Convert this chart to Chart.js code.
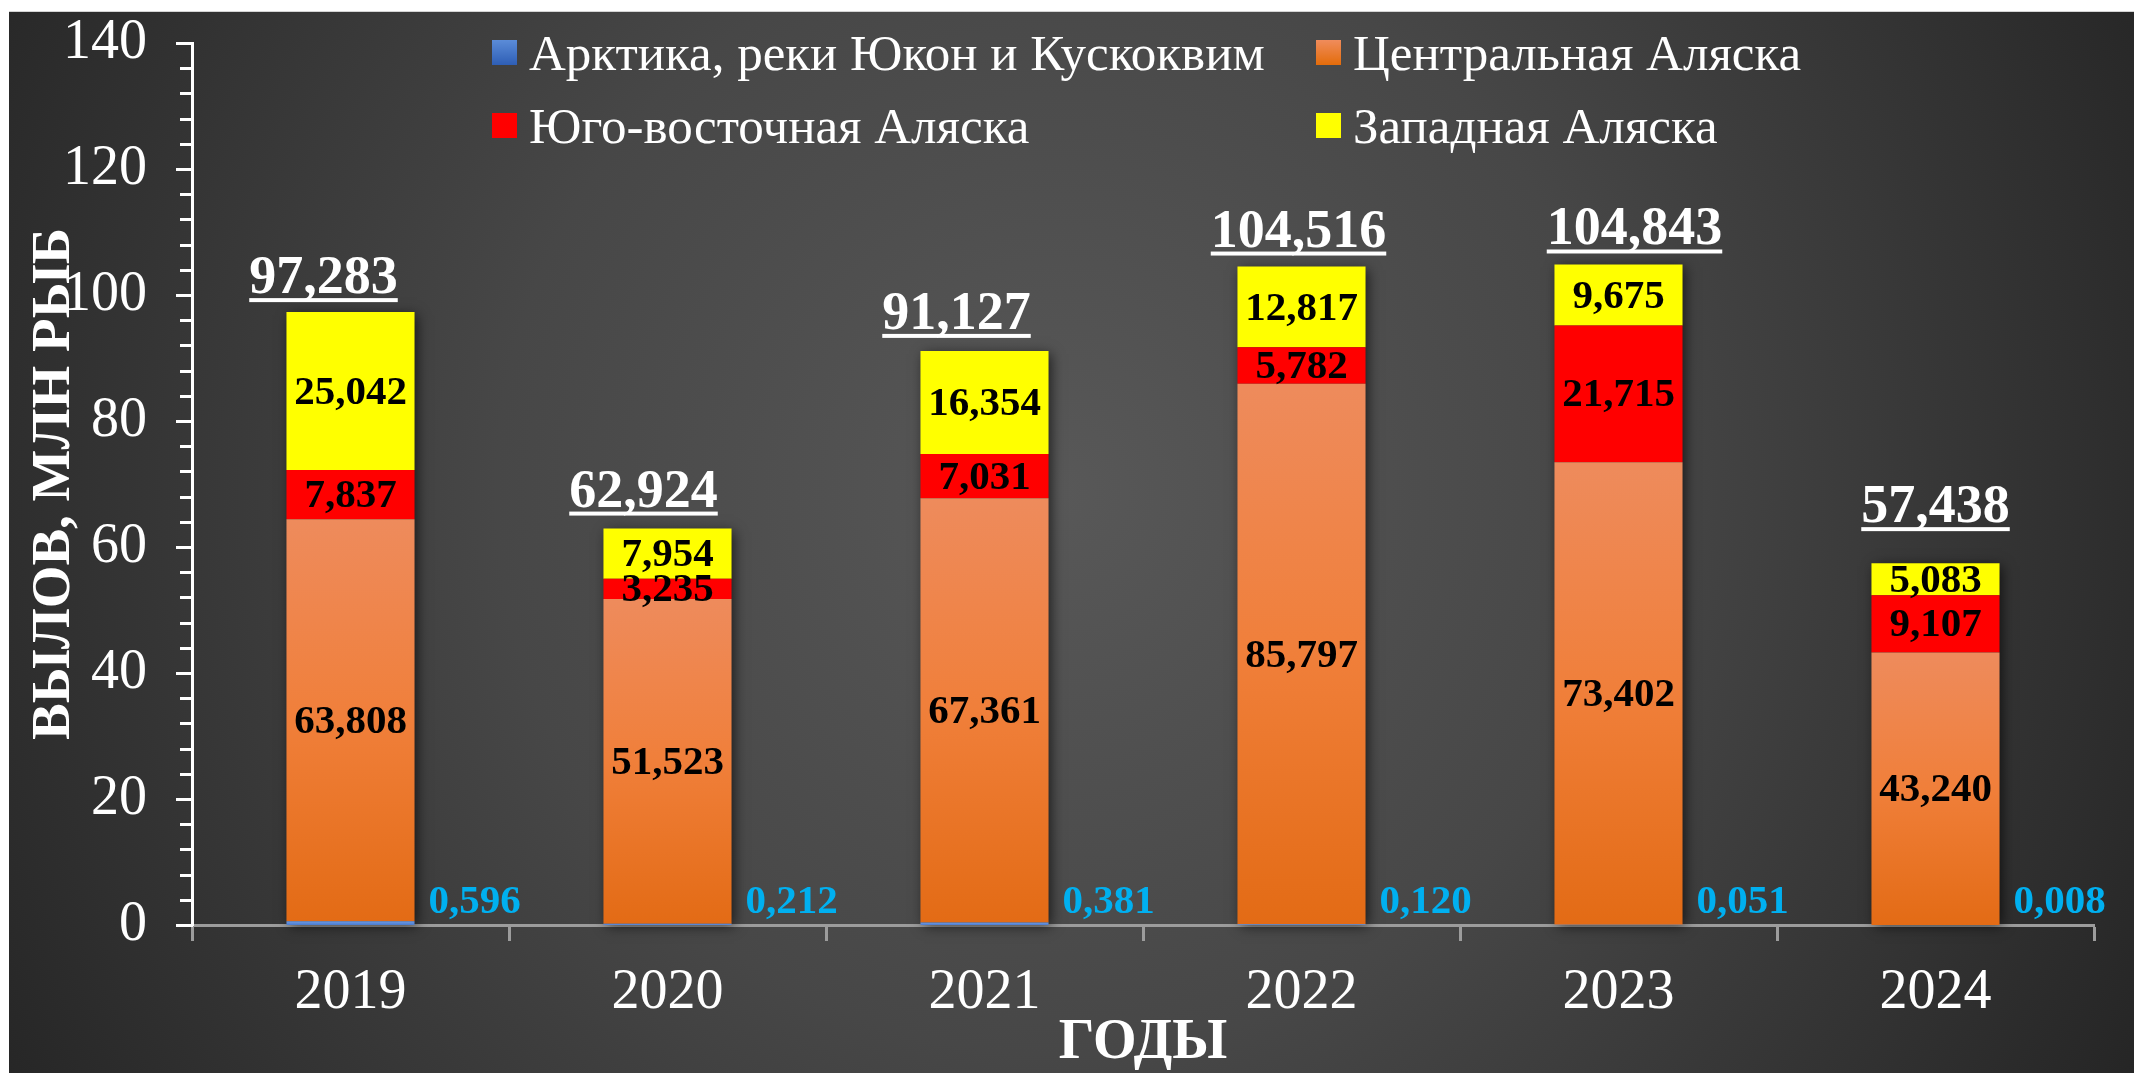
<!DOCTYPE html>
<html><head><meta charset="utf-8">
<script src="https://cdn.jsdelivr.net/npm/chart.js@4.4.1/dist/chart.umd.min.js"></script>
<style>
html,body{margin:0;padding:0;background:#fff;width:2134px;height:1073px;overflow:hidden}
#line{position:absolute;left:9px;top:11px;width:2125px;height:1px;background:#d4d4d4}
#wrap{position:absolute;left:9px;top:12px;width:2125px;height:1061px}
canvas{display:block}
</style></head><body>
<div id="line"></div>
<div id="wrap"><canvas id="c" width="2125" height="1061"></canvas></div>
<script>
// ---- data ----
const categories = ['2019', '2020', '2021', '2022', '2023', '2024'];
const seriesNames = ['Арктика, реки Юкон и Кускоквим', 'Центральная Аляска', 'Юго-восточная Аляска', 'Западная Аляска'];
const arctic    = [0.596, 0.212, 0.381, 0.120, 0.051, 0.008];
const central   = [63.808, 51.523, 67.361, 85.797, 73.402, 43.240];
const southeast = [7.837, 3.235, 7.031, 5.782, 21.715, 9.107];
const western   = [25.042, 7.954, 16.354, 12.817, 9.675, 5.083];
const totals    = [97.283, 62.924, 91.127, 104.516, 104.843, 57.438];
const yMin = 0, yMax = 140, yStep = 4, yLabelStep = 20;
const yTitle = 'ВЫЛОВ, МЛН РЫБ';
const xTitle = 'ГОДЫ';

// ---- style ----
const FONT = "'Liberation Serif', 'Times New Roman', serif";
const fmt = v => v.toFixed(3).replace('.', ',');
const totalDx = [-27, -24, -28, -3, 16, 0];
const totalDy = [-19, -22, -22, -20, -20, -41];

function grad(chart, y0, y1, stops) {
  const g = chart.ctx.createLinearGradient(0, y0, 0, y1);
  stops.forEach((c, k) => g.addColorStop(k / (stops.length - 1), c));
  return g;
}
const blueStops = ['#6F9BE3', '#4A7BD0'];
const orangeStops = ['#EE8B5C', '#F07F3A', '#E36B15'];

function segGrad(stops, lowerFn, upperFn, fallback) {
  return (c) => {
    const ys = c.chart.scales && c.chart.scales.y;
    if (c.type !== 'data' || !ys) return fallback;
    const i = c.dataIndex;
    const yTop = ys.getPixelForValue(upperFn(i)), yBot = ys.getPixelForValue(lowerFn(i));
    if (!isFinite(yTop) || !isFinite(yBot) || yTop === yBot) return fallback;
    return grad(c.chart, yTop, yBot, stops);
  };
}

const bgPlugin = {
  id: 'bg',
  beforeDraw(chart) {
    const {ctx, width, height} = chart;
    const g = ctx.createRadialGradient(1050, 480, 0, 1050, 480, 1250);
    g.addColorStop(0, '#585858');
    g.addColorStop(0.45, '#474747');
    g.addColorStop(1, '#242424');
    ctx.save();
    ctx.fillStyle = g;
    ctx.fillRect(0, 0, width, height);
    ctx.restore();
  }
};

const shadowPlugin = {
  id: 'barShadow',
  beforeDatasetsDraw(chart) {
    const ctx = chart.ctx;
    const bottomMeta = chart.getDatasetMeta(0), topMeta = chart.getDatasetMeta(3);
    ctx.save();
    ctx.shadowColor = 'rgba(0,0,0,0.65)';
    ctx.shadowBlur = 12;
    ctx.shadowOffsetX = 3;
    ctx.shadowOffsetY = 2;
    ctx.fillStyle = '#333';
    topMeta.data.forEach((el, i) => {
      const b = bottomMeta.data[i];
      ctx.fillRect(el.x - el.width / 2 + 1, el.y + 1, el.width - 2, b.base - el.y - 2);
    });
    ctx.restore();
  }
};

const yTickPlugin = {
  id: 'yTicks',
  afterDraw(chart) {
    const ys = chart.scales.y, ctx = chart.ctx;
    const x = chart.chartArea.left;
    ctx.save();
    ctx.strokeStyle = '#ffffff';
    ctx.lineWidth = 3;
    ys.ticks.forEach(t => {
      const y = Math.round(ys.getPixelForValue(t.value)) + 0.5;
      const len = (t.value % yLabelStep === 0) ? 16 : 12;
      ctx.beginPath();
      ctx.moveTo(x - len, y);
      ctx.lineTo(x + 1, y);
      ctx.stroke();
    });
    ctx.restore();
  }
};

const labelPlugin = {
  id: 'labels',
  afterDatasetsDraw(chart) {
    const ctx = chart.ctx;
    ctx.save();
    ctx.font = `bold 41px ${FONT}`;
    ctx.fillStyle = '#000';
    ctx.textAlign = 'center';
    ctx.textBaseline = 'middle';
    [1, 2, 3].forEach(d => {
      const meta = chart.getDatasetMeta(d);
      meta.data.forEach((el, i) => {
        const v = chart.data.datasets[d].data[i];
        ctx.fillText(fmt(v), el.x, (el.y + el.base) / 2 + 2);
      });
    });
    ctx.fillStyle = '#00B0F0';
    ctx.textAlign = 'left';
    ctx.textBaseline = 'alphabetic';
    const m0 = chart.getDatasetMeta(0);
    m0.data.forEach((el, i) => {
      ctx.fillText(fmt(arctic[i]), el.x + el.width / 2 + 14, el.base - 12);
    });
    ctx.font = `bold 54px ${FONT}`;
    ctx.fillStyle = '#fff';
    ctx.textAlign = 'center';
    const m3 = chart.getDatasetMeta(3);
    m3.data.forEach((el, i) => {
      const txt = fmt(totals[i]);
      const x = el.x + totalDx[i], y = el.y + totalDy[i];
      ctx.fillText(txt, x, y);
      const w = ctx.measureText(txt).width;
      ctx.fillRect(x - w / 2, y + 5, w, 4);
    });
    ctx.restore();
  }
};

const legendPlugin = {
  id: 'customLegend',
  afterDraw(chart) {
    const ctx = chart.ctx;
    const cols = [483, 1307], rowsBase = [58, 131], box = 25;
    ctx.save();
    ctx.font = `51px ${FONT}`;
    ctx.textBaseline = 'alphabetic';
    ctx.textAlign = 'left';
    const fills = [
      y => grad(chart, y, y + box, ['#5B8CD8', '#2E5EB5']),
      y => grad(chart, y, y + box, ['#F08C5C', '#E36C0A']),
      () => '#FF0000',
      () => '#FFFF00'
    ];
    seriesNames.forEach((name, k) => {
      const col = k % 2, row = Math.floor(k / 2);
      const bx = cols[col], base = rowsBase[row];
      const by = base - 30;
      ctx.fillStyle = fills[k](by);
      ctx.fillRect(bx, by, box, box);
      ctx.fillStyle = '#fff';
      ctx.fillText(name, bx + 37, base);
    });
    ctx.restore();
  }
};

const chart = new Chart(document.getElementById('c'), {
  type: 'bar',
  data: {
    labels: categories,
    datasets: [
      { label: seriesNames[0], data: arctic,
        backgroundColor: segGrad(blueStops, i => 0, i => arctic[i], '#4472C4') },
      { label: seriesNames[1], data: central,
        backgroundColor: segGrad(orangeStops, i => arctic[i], i => arctic[i] + central[i], '#ED7D31') },
      { label: seriesNames[2], data: southeast, backgroundColor: '#FF0000' },
      { label: seriesNames[3], data: western, backgroundColor: '#FFFF00' }
    ]
  },
  options: {
    responsive: false,
    animation: false,
    events: [],
    datasets: { bar: { categoryPercentage: 1, barPercentage: 0.404, borderWidth: 0 } },
    layout: { padding: { left: 0, right: 40, top: 31, bottom: 0 } },
    plugins: { legend: { display: false }, tooltip: { enabled: false }, title: { display: false } },
    scales: {
      x: {
        stacked: true,
        afterFit: s => { s.height = 148; },
        grid: { display: true, drawOnChartArea: false, drawTicks: true, tickLength: 16, tickWidth: 3, tickColor: '#9c9c9c', offset: true },
        border: { display: true, color: '#9c9c9c', width: 3 },
        ticks: { color: '#fff', font: { family: FONT, size: 56, lineHeight: 1.2 }, padding: 19, maxRotation: 0, autoSkip: false },
        title: { display: true, text: xTitle, color: '#fff', font: { family: FONT, size: 56, weight: 'bold', lineHeight: 1.05 }, padding: { top: 0, bottom: 0 } }
      },
      y: {
        stacked: true,
        min: yMin, max: yMax,
        afterFit: s => { s.width = 183; s.paddingTop = 0; s.paddingBottom = 0; },
        grid: { display: false },
        border: { display: true, color: '#ffffff', width: 3 },
        ticks: { stepSize: yStep, autoSkip: false, color: '#fff', padding: 37,
          font: { family: FONT, size: 56, lineHeight: 1 },
          callback: v => (v % yLabelStep === 0 ? String(v) : '') },
        title: { display: true, text: yTitle, color: '#fff', font: { family: FONT, size: 55, weight: 'bold', lineHeight: 1.2 }, padding: { top: 13, bottom: 0 } }
      }
    }
  },
  plugins: [bgPlugin, shadowPlugin, yTickPlugin, labelPlugin, legendPlugin]
});
</script>
</body></html>
